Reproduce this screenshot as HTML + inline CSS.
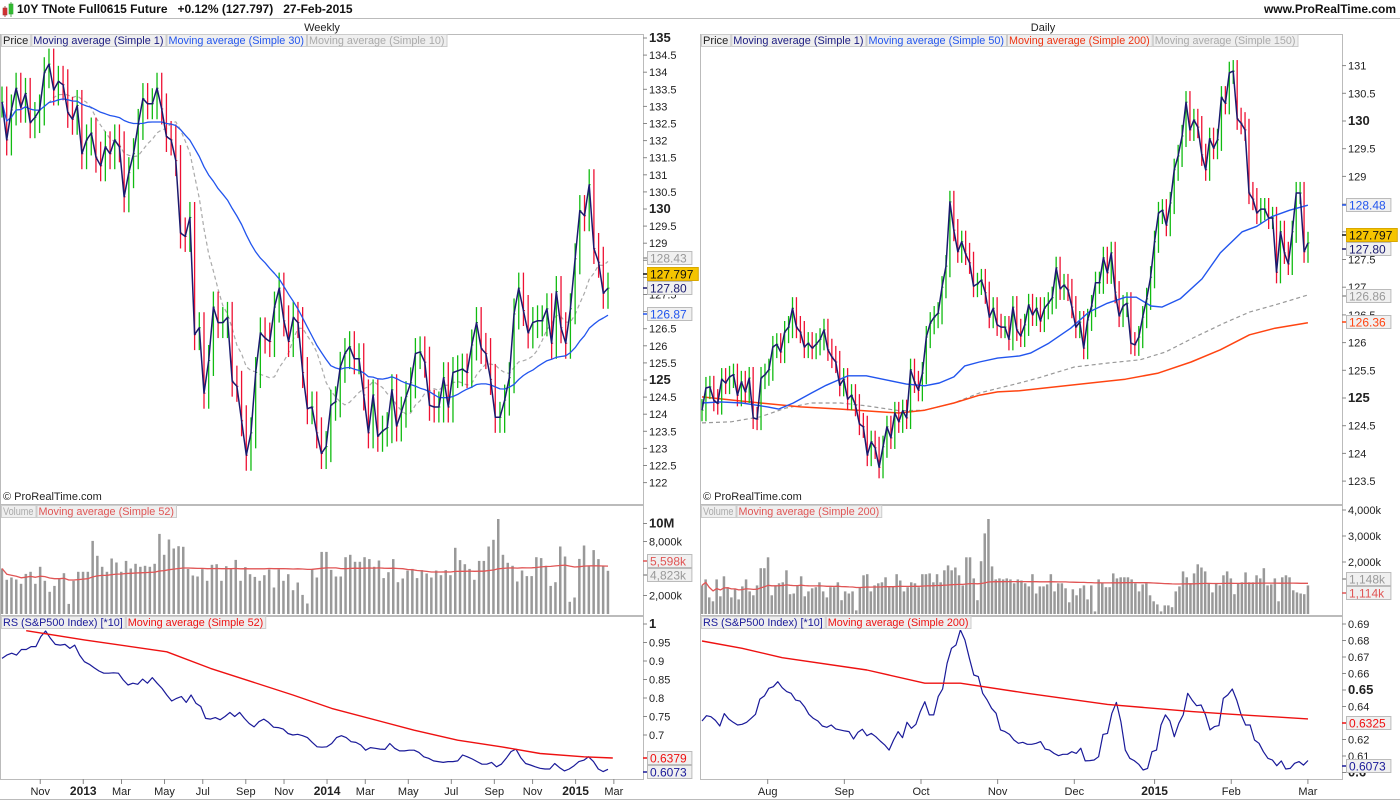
<!DOCTYPE html>
<html><head><meta charset="utf-8"><style>
html,body{margin:0;padding:0;background:#fff;}
svg{display:block;font-family:"Liberation Sans",Arial,sans-serif;}
</style></head><body>
<svg id="chart" width="1400" height="800" viewBox="0 0 1400 800" xmlns="http://www.w3.org/2000/svg">
<defs>
<clipPath id="cWP"><rect x="1" y="48" width="641" height="455"/></clipPath>
<clipPath id="cDP"><rect x="701" y="48" width="640" height="455"/></clipPath>
<clipPath id="cWV"><rect x="1" y="519" width="641" height="95"/></clipPath>
<clipPath id="cDV"><rect x="701" y="519" width="640" height="95"/></clipPath>
<clipPath id="cWR"><rect x="1" y="630" width="641" height="148"/></clipPath>
<clipPath id="cDR"><rect x="701" y="630" width="640" height="148"/></clipPath>
</defs>
<g>
<rect x="0" y="0" width="1400" height="18" fill="#fff"/>
<line x1="0" y1="18.5" x2="1400" y2="18.5" stroke="#bbb"/>
<rect x="3" y="8" width="4" height="7" fill="#e33" stroke="#933" stroke-width="0.6"/>
<line x1="5" y1="6" x2="5" y2="17" stroke="#933" stroke-width="0.8"/>
<rect x="9" y="4" width="4" height="10" fill="#3c3" stroke="#393" stroke-width="0.6"/>
<line x1="11" y1="2" x2="11" y2="17" stroke="#393" stroke-width="0.8"/>
<text x="17" y="13" font-size="12" font-weight="bold" fill="#111">10Y TNote Full0615 Future&#160;&#160;&#160;+0.12% (127.797)&#160;&#160;&#160;27-Feb-2015</text>
<text x="1396" y="13" font-size="12" font-weight="bold" fill="#111" text-anchor="end">www.ProRealTime.com</text>
</g>
<text x="322" y="31" font-size="11" text-anchor="middle" fill="#222">Weekly</text>
<text x="1043" y="31" font-size="11" text-anchor="middle" fill="#222">Daily</text>
<g id="frames"></g>
<g id="layer"></g>
</svg>
<script>
// ---------- WEEKLY DATA ----------
const wClose=[133.2,132.1,132.97,133.6,133.05,133.45,132.6,132.75,132.97,134.05,134.3,133.55,133.8,133.7,132.9,132.7,133.1,131.7,132.1,132.3,131.6,131.35,131.9,131.7,132.1,131.9,130.45,131.15,131.7,132.55,133.3,133.15,133.15,133.6,133.0,132.2,132.1,131.5,129.4,129.3,129.85,126.45,126.65,124.75,125.7,127.25,126.8,126.8,126.95,125.1,124.95,123.95,122.95,123.6,125.35,126.5,126.35,126.25,127.25,127.8,126.85,126.25,126.95,126.8,125.35,124.3,124.35,123.6,123.0,123.2,124.4,124.5,125.5,125.9,126.1,125.75,125.75,124.7,123.6,124.7,123.5,123.65,123.75,124.85,123.8,124.2,124.65,125.05,125.9,125.95,125.65,124.4,124.35,124.35,125.2,124.35,125.35,125.4,125.45,125.35,126.15,126.8,126.05,125.9,125.15,124.05,124.05,124.55,125.2,127.05,127.8,127.15,126.5,126.8,126.85,126.85,127.2,126.2,127.7,126.65,126.2,127.2,128.65,130.05,129.9,130.8,128.95,128.55,127.65,127.8];
const wVolume=[5000,3740,4000,3780,3300,4400,4630,3300,5190,3630,2410,3070,3850,4480,1070,3630,4630,4630,4630,8070,6410,5190,4630,6110,5670,4630,5850,5000,5520,5190,5300,5190,5520,8850,6520,8220,7220,7480,7410,4960,4220,4110,4930,3630,5410,5480,3630,5260,5000,5960,3630,5150,4370,4070,3630,4260,4890,2890,4890,3630,4370,2590,3440,2070,1110,4960,4000,6850,6850,4850,4110,4110,6260,6520,5740,5740,6260,6040,5190,5890,3930,4590,6040,3480,3890,4780,4960,3930,4820,4440,4000,4780,4260,4820,4260,7300,5930,5480,4960,3740,5850,5850,7450,8190,11300,6520,5630,5300,3560,4780,4150,4150,6260,6150,5300,3070,3480,7450,6330,1300,1780,6070,7560,5260,7040,6040,5330,4740];
const wRS=[0.907,0.916,0.921,0.916,0.931,0.931,0.939,0.939,0.966,0.981,0.961,0.945,0.943,0.945,0.934,0.943,0.916,0.898,0.891,0.882,0.873,0.867,0.867,0.868,0.867,0.849,0.835,0.840,0.837,0.851,0.840,0.855,0.840,0.826,0.808,0.792,0.799,0.804,0.788,0.808,0.786,0.777,0.745,0.743,0.747,0.741,0.750,0.761,0.750,0.761,0.745,0.731,0.722,0.736,0.743,0.734,0.721,0.720,0.716,0.704,0.700,0.702,0.698,0.693,0.680,0.668,0.667,0.668,0.677,0.693,0.698,0.693,0.682,0.680,0.673,0.659,0.666,0.664,0.662,0.661,0.677,0.664,0.657,0.657,0.659,0.659,0.653,0.641,0.637,0.630,0.628,0.626,0.628,0.628,0.630,0.646,0.641,0.635,0.628,0.621,0.621,0.626,0.614,0.621,0.637,0.655,0.662,0.639,0.623,0.619,0.614,0.610,0.608,0.608,0.623,0.612,0.603,0.608,0.617,0.628,0.632,0.641,0.628,0.608,0.601,0.6073];
const wRSMaIdx=[5,17,34,43,60,68,85,94,103,111,120,126];
const wRSMa=[0.982,0.957,0.925,0.880,0.808,0.772,0.713,0.686,0.668,0.650,0.641,0.6379];
const wPriceTicks=[135,134.5,134,133.5,133,132.5,132,131.5,131,130.5,130,129.5,129,128.5,128,127.5,127,126.5,126,125.5,125,124.5,124,123.5,123,122.5,122];
const wVolTicks=[[12000,"12M"],[10000,"10M"],[8000,"8,000k"],[2000,"2,000k"]];
const wRSTicks=[1,0.95,0.9,0.85,0.8,0.75,0.7];
const wXLabels=["Nov","2013","Mar","May","Jul","Sep","Nov","2014","Mar","May","Jul","Sep","Nov","2015","Mar"];
const wXIdx=[8,17,25,34,42,51,59,68,76,85,94,103,111,120,128];

// ---------- DAILY DATA ----------
const dClose=[124.78,125.18,125.20,124.96,124.90,125.34,125.27,125.38,125.42,125.05,125.29,125.11,125.36,124.64,124.62,125.36,125.42,125.51,125.92,125.97,125.83,126.19,126.28,126.62,126.28,126.19,125.92,125.99,125.90,125.97,126.06,126.23,125.87,125.74,125.65,125.23,125.34,124.98,125.05,124.87,124.53,124.48,123.97,124.21,124.10,123.75,124.12,124.48,124.28,124.73,124.57,124.77,124.64,125.51,125.29,125.14,125.45,126.10,126.35,126.46,126.53,127.00,127.38,128.54,128.03,127.64,127.82,127.60,127.44,127.02,127.06,127.13,126.90,126.46,126.62,126.32,126.28,126.28,126.06,126.64,126.23,126.12,126.32,126.68,126.50,126.62,126.39,126.62,126.71,126.81,127.35,126.97,127.04,126.95,126.64,126.28,126.37,125.90,126.41,126.66,127.08,127.08,127.53,127.26,127.62,126.91,126.48,126.66,126.71,125.99,125.96,126.10,126.46,126.79,127.18,127.82,128.34,128.39,128.12,128.52,129.12,129.37,129.73,130.34,129.84,130.02,129.89,129.39,129.12,129.68,129.51,129.66,130.43,130.32,130.87,130.90,130.04,129.96,129.84,128.70,128.59,128.34,128.41,128.41,128.25,128.25,127.27,128.00,127.62,127.42,128.00,128.70,128.70,127.64,127.80];
const dVolume=[1100,1330,640,490,1330,680,1450,1030,640,950,560,1060,1330,870,720,1100,1760,1760,2180,720,1100,1180,1220,1680,760,790,1100,1450,680,870,990,1030,1220,870,640,1030,1030,1220,530,870,790,870,140,1030,1490,1530,870,1100,1180,1220,1410,1030,1060,1530,1290,870,1030,1220,1180,1030,1530,1530,1560,1220,1530,1220,1680,1870,1680,1790,1490,1100,2180,2180,1370,530,2030,3100,3950,1830,1330,1370,1330,1370,1330,1180,1330,1290,1180,1060,1530,790,1060,1060,1140,1530,870,1180,1180,990,450,950,720,990,1100,560,1100,100,1330,1180,1030,1030,1560,1370,1410,1410,1410,1330,1180,870,1140,1180,720,490,370,100,330,330,260,870,1060,1640,1410,1180,1560,1910,1790,1640,1180,830,1180,1100,1490,1640,1370,760,1180,1220,1600,1220,1220,1490,1370,1760,1100,1140,1370,490,1410,1490,1410,910,830,790,760,1100];
const dRS=[0.6312,0.6344,0.6338,0.6316,0.6282,0.6357,0.6324,0.6304,0.6288,0.6292,0.6304,0.6328,0.6353,0.6445,0.6464,0.6510,0.6520,0.6550,0.6514,0.6490,0.6480,0.6439,0.6433,0.6399,0.6353,0.6328,0.6312,0.6282,0.6274,0.6288,0.6264,0.6258,0.6252,0.6248,0.6203,0.6244,0.6262,0.6223,0.6237,0.6217,0.6191,0.6167,0.6136,0.6197,0.6248,0.6211,0.6304,0.6268,0.6292,0.6369,0.6429,0.6349,0.6349,0.6460,0.6506,0.6662,0.6753,0.6773,0.6864,0.6803,0.6692,0.6591,0.6581,0.6480,0.6439,0.6389,0.6359,0.6258,0.6248,0.6231,0.6197,0.6177,0.6183,0.6171,0.6171,0.6177,0.6187,0.6142,0.6136,0.6116,0.6102,0.6110,0.6110,0.6126,0.6116,0.6147,0.6070,0.6072,0.6076,0.6096,0.6231,0.6237,0.6359,0.6425,0.6308,0.6136,0.6086,0.6072,0.6050,0.6015,0.6025,0.6126,0.6136,0.6288,0.6349,0.6312,0.6217,0.6298,0.6349,0.6480,0.6439,0.6405,0.6409,0.6349,0.6258,0.6278,0.6284,0.6449,0.6470,0.6506,0.6439,0.6349,0.6288,0.6288,0.6197,0.6177,0.6126,0.6086,0.6076,0.6041,0.6070,0.6021,0.6025,0.6056,0.6066,0.6045,0.6073];
const dRSMaIdx=[0,9,18,37,50,58,73,91,110,119,136];
const dRSMa=[0.6797,0.6753,0.6696,0.6621,0.6541,0.6541,0.6480,0.6413,0.6369,0.6353,0.6325];
const dMa50Idx=[0,5,11,18,21,25,30,34,40,45,51,56,61,65,69,72,76,81,87,90,95,101,106,111,116,119,123,126,131,137,142,148,152,156,161,166];
const dMa50=[124.91,124.93,124.91,124.84,124.80,124.91,125.09,125.23,125.40,125.40,125.32,125.25,125.22,125.27,125.38,125.58,125.65,125.72,125.76,125.81,125.99,126.26,126.55,126.71,126.82,126.82,126.66,126.64,126.79,127.15,127.62,128.00,128.10,128.27,128.39,128.48];
const dMa200Idx=[0,10,16,27,38,49,54,61,69,76,81,87,116,125,134,142,150,157,166];
const dMa200=[125.02,124.95,124.91,124.84,124.80,124.75,124.73,124.78,124.91,125.05,125.11,125.13,125.34,125.45,125.65,125.87,126.14,126.26,126.36];
const dMa150Idx=[0,8,16,23,30,38,45,54,61,69,76,87,92,102,111,120,127,135,143,150,157,166];
const dMa150=[124.55,124.57,124.66,124.82,124.91,124.91,124.86,124.77,124.78,124.91,125.09,125.27,125.36,125.56,125.63,125.69,125.83,126.10,126.35,126.55,126.68,126.86];
const dPriceTicks=[131.5,131,130.5,130,129.5,129,128.5,128,127.5,127,126.5,126,125.5,125,124.5,124,123.5];
const dVolTicks=[[4000,"4,000k"],[3000,"3,000k"],[2000,"2,000k"]];
const dRSTicks=[0.69,0.68,0.67,0.66,0.65,0.64,0.62,0.61,0.6];
const dXLabels=["Aug","Sep","Oct","Nov","Dec","2015","Feb","Mar"];
const dXIdx=[18,39,60,81,102,124,145,166];

// ---------- SCALES ----------
const W_X0=2, W_X1=608, D_X0=702, D_X1=1308;
const xW=i=>W_X0+i*(W_X1-W_X0)/(wClose.length-1);
const xWk=i=>W_X0+i*4.78;
const yWP=p=>40+(135-p)*34.46;
const yWPt=p=>38+(135-p)*34.2;
const yWV=v=>613.5-v*0.009, yWR=r=>624+(1-r)*370;
const xD=i=>D_X0+i*(D_X1-D_X0)/(dClose.length-1);
const xDk=i=>D_X0+i*3.65;
const yDP=p=>398-(p-125)*55.4, yDV=v=>614-v*0.026, yDR=r=>624+(0.69-r)*1650;

const NS="http://www.w3.org/2000/svg";
const layer=document.getElementById('layer');
const frames=document.getElementById('frames');
function mk(tag,attrs,parent){const e=document.createElementNS(NS,tag);for(const k in attrs)e.setAttribute(k,attrs[k]);(parent||layer).appendChild(e);return e;}
function grp(clip,parent){return mk('g',clip?{'clip-path':'url(#'+clip+')'}:{},parent);}
function poly(pts,stroke,w,parent,dash){const e=mk('polyline',{points:pts.map(p=>p[0].toFixed(1)+','+p[1].toFixed(1)).join(' '),fill:'none',stroke:stroke,'stroke-width':w,'stroke-linejoin':'round'},parent);if(dash)e.setAttribute('stroke-dasharray',dash);return e;}
function sma(arr,n){return arr.map((v,i)=>{const s=Math.max(0,i-n+1);let t=0;for(let k=s;k<=i;k++)t+=arr[k];return t/(i-s+1);});}

// ---------- FRAMES ----------
function box(x,y,w,h,name){const r=mk('rect',{x:x+0.5,y:y+0.5,width:w,height:h,fill:'none',stroke:'#bbb'},frames);}
box(0,34,643,470,'weekly-price-panel');box(0,505,643,110,'weekly-volume-panel');box(0,616,643,163,'weekly-rs-panel');
box(700,34,642,470,'daily-price-panel');box(700,505,642,110,'daily-volume-panel');box(700,616,642,163,'daily-rs-panel');
mk('line',{x1:0,y1:799.5,x2:1400,y2:799.5,stroke:'#bbb'},frames);

function legend(x,y,items,name){
  const g=mk('g',{});
  let cx=x;
  items.forEach(it=>{const w=it[0].length*5.25+3;
    mk('rect',{x:cx+0.5,y:y+0.5,width:w,height:12,fill:'#efefef',stroke:'#ccc'},g);
    const t=mk('text',{x:cx+2,y:y+10,'font-size':11,fill:it[1],textLength:w-4,lengthAdjust:'spacingAndGlyphs'},g);t.textContent=it[0];
    cx+=w+1;});
}
legend(1,34,[["Price","#222"],["Moving average (Simple 1)","#1a1a80"],["Moving average (Simple 30)","#2255ee"],["Moving average (Simple 10)","#aaa"]],'weekly-price-legend');
legend(701,34,[["Price","#222"],["Moving average (Simple 1)","#1a1a80"],["Moving average (Simple 50)","#2255ee"],["Moving average (Simple 200)","#ee3311"],["Moving average (Simple 150)","#aaa"]],'daily-price-legend');
legend(1,505,[["Volume","#aaa"],["Moving average (Simple 52)","#e05555"]],'weekly-volume-legend');
legend(701,505,[["Volume","#aaa"],["Moving average (Simple 200)","#e05555"]],'daily-volume-legend');
legend(1,616,[["RS (S&P500 Index) [*10]","#1a1a99"],["Moving average (Simple 52)","#ee1111"]],'weekly-rs-legend');
legend(701,616,[["RS (S&P500 Index) [*10]","#1a1a99"],["Moving average (Simple 200)","#ee1111"]],'daily-rs-legend');

let t1=mk('text',{x:3,y:500,'font-size':11,fill:'#222'});t1.textContent='© ProRealTime.com';

let t2=mk('text',{x:703,y:500,'font-size':11,fill:'#222'});t2.textContent='© ProRealTime.com';


// ---------- PRICE BARS ----------
function bars(closes,xf,yf,wick,clip,name){
  const g=grp(clip);
  closes.forEach((c,i)=>{const o=i>0?closes[i-1]:c;const up=c>=o;
    const hi=Math.max(o,c)+wick, lo=Math.min(o,c)-wick;const x=xf(i);
    const col=up?'#11bb11':'#ee1133';
    const l=mk('line',{x1:x,y1:yf(hi),x2:x,y2:yf(lo),stroke:col,'stroke-width':1.3},g);
    
    
    mk('line',{x1:x,y1:yf(c),x2:x+1.5,y2:yf(c),stroke:col,'stroke-width':1},g);
  });
}
function knotLine(idx,vals,xf,yf,col,w,clip,name,dash){const g=grp(clip);const p=poly(idx.map((k,j)=>[xf(k),yf(vals[j])]),col,w,g,dash);}

// weekly price
const gwp=grp('cWP');
const wMa30=sma(wClose,30), wMa10=sma(wClose,10);
let e=poly(wMa10.map((v,i)=>[xW(i),yWP(v)]),'#aaa',1.2,gwp,'4,3');
bars(wClose,xW,yWP,0.45,'cWP','weekly-price-bars');
const gwp2=grp('cWP');
e=poly(wMa30.map((v,i)=>[xW(i),yWP(v)]),'#2255ee',1.3,gwp2);
e=poly(wClose.map((v,i)=>[xW(i),yWP(v)]),'#1a1a6e',1.5,gwp2);

// daily price
knotLine(dMa150Idx,dMa150,xDk,yDP,'#999',1.2,'cDP','daily-ma150','4,3');
knotLine(dMa200Idx,dMa200,xDk,yDP,'#ff4411',1.5,'cDP','daily-ma200');
bars(dClose,xD,yDP,0.2,'cDP','daily-price-bars');
knotLine(dMa50Idx,dMa50,xDk,yDP,'#2255ee',1.4,'cDP','daily-ma50');
const gdp=grp('cDP');
e=poly(dClose.map((v,i)=>[xD(i),yDP(v)]),'#1a1a6e',1.5,gdp);

// volume
function volume(vals,x0,x1,yf,clip,name,maN,base){
  const g=grp(clip);
  const step=(x1-x0)/(vals.length-1);
  vals.forEach((v,i)=>{const r=mk('rect',{x:(x0+i*step-1.3).toFixed(1),y:yf(v).toFixed(1),width:2.5,height:(base-yf(v)).toFixed(1),fill:'#999'},g);
    
    });
  const ma=sma(vals,maN);
  const p=poly(ma.map((v,i)=>[x0+i*step,yf(v)]),'#e05555',1.3,g);
  
}
volume(wVolume,W_X0,W_X1,yWV,'cWV','weekly-volume',52,614);
volume(dVolume,D_X0,D_X1,yDV,'cDV','daily-volume',200,614);

// RS
function rs(vals,x0,x1,yf,clip,name){const g=grp(clip);const step=(x1-x0)/(vals.length-1);
  const p=poly(vals.map((v,i)=>[x0+i*step,yf(v)]),'#1a1a99',1.2,g);}
rs(wRS,W_X0,W_X1,yWR,'cWR','weekly-rs-line');
rs(dRS,D_X0,D_X1,yDR,'cDR','daily-rs-line');
const wRSx=i=>W_X0+i*(W_X1-W_X0)/(wRS.length-1);
const dRSx=i=>D_X0+i*(D_X1-D_X0)/(dRS.length-1);
knotLine(wRSMaIdx,wRSMa,wRSx,yWR,'#ee1111',1.4,'cWR','weekly-rs-ma52');
knotLine(dRSMaIdx,dRSMa,dRSx,yDR,'#ee1111',1.4,'cDR','daily-rs-ma200');

// ---------- AXES ----------
function yAxis(ax,ticks,yf,fmt,bold,name,ymin,ymax){
  const g=mk('g',{});
  ticks.forEach(t=>{const v=Array.isArray(t)?t[0]:t;const lab=Array.isArray(t)?t[1]:fmt(v);const y=yf(v);if(y<ymin||y>ymax)return;
    mk('line',{x1:ax,y1:y,x2:ax+4,y2:y,stroke:'#888'},g);
    const tx=mk('text',{x:ax+6,y:y+4,'font-size':bold(v)?13:11,'font-weight':bold(v)?'bold':'normal',fill:'#222'},g);tx.textContent=lab;
    
    });
}
const fmtP=v=>String(+v.toFixed(2));
yAxis(643,wPriceTicks,yWPt,fmtP,v=>v%5===0,'weekly-price-axis',36,500);
yAxis(1342,dPriceTicks,yDP,fmtP,v=>v%5===0,'daily-price-axis',60,500);
yAxis(643,wVolTicks,yWV,null,v=>v===10000,'weekly-volume-axis',508,612);
yAxis(1342,dVolTicks,yDV,null,v=>false,'daily-volume-axis',508,612);
yAxis(643,wRSTicks,yWR,fmtP,v=>v===1,'weekly-rs-axis',618,776);
yAxis(1342,dRSTicks,yDR,fmtP,v=>Math.abs(v-0.65)<1e-6||Math.abs(v-0.6)<1e-6,'daily-rs-axis',618,776);

function xAxis(labels,idx,xf,name){
  const g=mk('g',{});
  labels.forEach((l,j)=>{const x=xf(idx[j]);mk('line',{x1:x,y1:779,x2:x,y2:784,stroke:'#888'},g);
    const b=/^\d{4}$/.test(l);
    const t=mk('text',{x:x,y:795,'font-size':b?12:11,'font-weight':b?'bold':'normal','text-anchor':'middle',fill:'#222'},g);t.textContent=l;
    
    });
}
xAxis(wXLabels,wXIdx,xWk,'weekly-x-axis');
xAxis(dXLabels,dXIdx,xDk,'daily-x-axis');

// ---------- VALUE BADGES ----------
function badge(ax,y,txt,col,bg,name){
  const g=mk('g',{});
  mk('line',{x1:ax,y1:y,x2:ax+4,y2:y,stroke:col,'stroke-width':1.5},g);
  const w=txt.length*6.4+6;
  mk('rect',{x:ax+4.5,y:y-6.5,width:w,height:13,fill:bg,stroke:bg==='#f5c400'?'#d9a800':'#bbb'},g);
  const t=mk('text',{x:ax+7,y:y+4.5,'font-size':12,fill:bg==='#f5c400'?'#111':col},g);t.textContent=txt;
}
badge(643,258,'128.43','#999','#f0f0f0','badge-weekly-ma10');
badge(643,274,'127.797','#111','#f5c400','badge-weekly-last');
badge(643,288,'127.80','#1a1a6e','#f0f0f0','badge-weekly-ma1');
badge(643,314,'126.87','#2255ee','#f0f0f0','badge-weekly-ma30');
badge(643,561,'5,598k','#e05555','#f0f0f0','badge-weekly-vol-ma');
badge(643,575,'4,823k','#999','#f0f0f0','badge-weekly-vol');
badge(643,758,'0.6379','#ee1111','#f0f0f0','badge-weekly-rs-ma');
badge(643,772,'0.6073','#1a1a99','#f0f0f0','badge-weekly-rs');
badge(1342,205,'128.48','#2255ee','#f0f0f0','badge-daily-ma50');
badge(1342,235,'127.797','#111','#f5c400','badge-daily-last');
badge(1342,249,'127.80','#1a1a6e','#f0f0f0','badge-daily-ma1');
badge(1342,296,'126.86','#999','#f0f0f0','badge-daily-ma150');
badge(1342,322,'126.36','#ff4411','#f0f0f0','badge-daily-ma200');
badge(1342,579,'1,148k','#999','#f0f0f0','badge-daily-vol');
badge(1342,593,'1,114k','#e05555','#f0f0f0','badge-daily-vol-ma');
badge(1342,723,'0.6325','#ee1111','#f0f0f0','badge-daily-rs-ma');
badge(1342,766,'0.6073','#1a1a99','#f0f0f0','badge-daily-rs');
</script>
</body></html>
